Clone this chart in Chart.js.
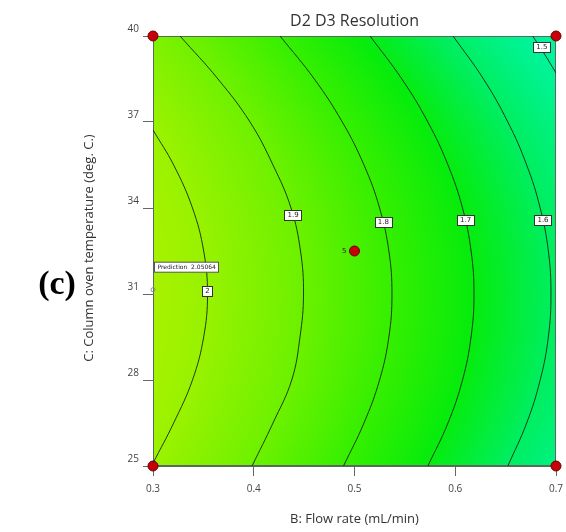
<!DOCTYPE html>
<html>
<head>
<meta charset="utf-8">
<script src="https://cdn.jsdelivr.net/npm/chart.js@4.4.1/dist/chart.umd.min.js"></script>
<style>
  html, body { margin: 0; padding: 0; background: #fff; }
  #wrap { width: 566px; height: 532px; }
</style>
</head>
<body>
<div id="wrap"><canvas id="myChart" width="566" height="532"></canvas></div>
<script>
// contour lines of the resolution, traced as [flow rate, temperature]
let levels = ['2', '1.9', '1.8', '1.7', '1.6', '1.5'];
let c20 = [[0.300, 36.72], [0.3205, 35.5], [0.3392, 34], [0.3503, 32.5], [0.3541, 31], [0.3503, 29.5], [0.3392, 28], [0.3205, 26.5], [0.300, 25.1]];
let c19 = [[0.3268, 40], [0.3645, 38.5], [0.3963, 37], [0.4191, 35.5], [0.4370, 34], [0.4464, 32.5], [0.4494, 31], [0.4459, 29.5], [0.4377, 28], [0.4191, 26.5], [0.3983, 25]];
let c18 = [[0.4261, 40], [0.4601, 38.5], [0.4879, 37], [0.5094, 35.5], [0.5249, 34], [0.5341, 32.5], [0.5372, 31], [0.5341, 29.5], [0.5249, 28], [0.5094, 26.5], [0.4891, 25]];
let c17 = [[0.5154, 40], [0.5470, 38.5], [0.5728, 37], [0.5928, 35.5], [0.6072, 34], [0.6157, 32.5], [0.6186, 31], [0.6157, 29.5], [0.6072, 28], [0.5928, 26.5], [0.5728, 25]];
let c16 = [[0.5978, 40], [0.6280, 38.5], [0.6522, 37], [0.6709, 35.5], [0.6843, 34], [0.6924, 32.5], [0.6950, 31], [0.6924, 29.5], [0.6843, 28], [0.6709, 26.5], [0.6522, 25]];
let c15 = [[0.6769, 40], [0.6891, 39.34], [0.700, 38.71]];
let contours = [c20, c19, c18, c17, c16, c15];

// where each level value is written on its line
let labelPos = [[0.354, 31.10], [0.439, 33.76], [0.5286, 33.51], [0.6102, 33.58], [0.6871, 33.58], [0.686, 39.62]];

// design points
let corners = [[0.3, 25], [0.3, 40], [0.7, 25], [0.7, 40]];
let centerPt = [0.5, 32.5];
let centerRuns = '5';
let predictPt = [0.3, 31.15];
let predictValue = '2.05064';

let xTicks = [0.3, 0.4, 0.5, 0.6, 0.7];
let xTickLabels = ['0.3', '0.4', '0.5', '0.6', '0.7'];
let yTicks = [25, 28, 31, 34, 37, 40];
let yTickLabels = ['25', '28', '31', '34', '37', '40'];

const uiFont = '"Open Sans", "Noto Sans", sans-serif';

function toXY(arr) {
  return arr.map(p => ({ x: p[0], y: p[1] }));
}

// colour along the middle row, by pixel; rows above/below are shifted with the 1.8 line
const shadeStops = [
  [153, '#a8f200'], [207, '#98f200'], [303, '#6cf100'], [392, '#36ef00'],
  [473, '#06ec0c'], [550, '#00ee5c'], [625, '#00f392'], [680, '#00f5aa']
];

const shading = {
  id: 'shading',
  beforeDatasetsDraw(chart) {
    const { ctx, chartArea: a, scales: { x, y } } = chart;
    const ref = c18.map(p => [x.getPixelForValue(p[0]), y.getPixelForValue(p[1])]);
    const vx = Math.max(...ref.map(p => p[0]));
    const xAt = py => {
      for (let i = 0; i < ref.length - 1; i++) {
        const [x0, y0] = ref[i], [x1, y1] = ref[i + 1];
        if (py >= y0 && py <= y1) return x0 + (x1 - x0) * (py - y0) / (y1 - y0 || 1);
      }
      return ref[ref.length - 1][0];
    };
    const s0 = shadeStops[0][0], s1 = shadeStops[shadeStops.length - 1][0];
    ctx.save();
    for (let py = a.top; py < a.bottom; py += 2) {
      const d = vx - xAt(py + 1);
      const g = ctx.createLinearGradient(s0 - d, 0, s1 - d, 0);
      shadeStops.forEach(s => g.addColorStop((s[0] - s0) / (s1 - s0), s[1]));
      ctx.fillStyle = g;
      ctx.fillRect(a.left, py, a.right - a.left, 2);
    }
    ctx.strokeStyle = '#5a6a5a';
    ctx.lineWidth = 1;
    ctx.strokeRect(a.left + 0.5, a.top + 0.5, a.right - a.left - 1, a.bottom - a.top - 1);
    ctx.restore();
  },
  afterDatasetsDraw(chart) {
    const { ctx, scales: { x, y } } = chart;
    ctx.save();
    // level labels
    ctx.font = '7px "DejaVu Sans", sans-serif';
    ctx.textAlign = 'center';
    ctx.textBaseline = 'middle';
    labelPos.forEach((p, i) => {
      const px = x.getPixelForValue(p[0]), py = y.getPixelForValue(p[1]);
      const w = ctx.measureText(levels[i]).width + 6;
      ctx.fillStyle = '#fff';
      ctx.fillRect(Math.round(px - w / 2) + 0.5, Math.round(py - 5) + 0.5, Math.round(w), 10);
      ctx.strokeStyle = '#333';
      ctx.strokeRect(Math.round(px - w / 2) + 0.5, Math.round(py - 5) + 0.5, Math.round(w), 10);
      ctx.fillStyle = '#222';
      ctx.fillText(levels[i], px, py + 0.5);
    });
    // run count next to the centre point
    const cx = x.getPixelForValue(centerPt[0]), cy = y.getPixelForValue(centerPt[1]);
    ctx.textAlign = 'right';
    ctx.fillText(centerRuns, cx - 8, cy);
    // prediction flag
    const fx = x.getPixelForValue(predictPt[0]), fy = y.getPixelForValue(predictPt[1]);
    ctx.strokeStyle = '#888';
    ctx.beginPath();
    ctx.arc(fx, fy, 2, 0, Math.PI * 2);
    ctx.stroke();
    ctx.font = '6px "DejaVu Sans", sans-serif';
    const txt = 'Prediction  ' + predictValue;
    const tw = Math.round(ctx.measureText(txt).width + 6);
    ctx.fillStyle = '#fff';
    ctx.fillRect(fx + 1.5, fy - 27.5, tw, 10);
    ctx.strokeStyle = '#555';
    ctx.strokeRect(fx + 1.5, fy - 27.5, tw, 10);
    ctx.fillStyle = '#222';
    ctx.textAlign = 'left';
    ctx.fillText(txt, fx + 4.5, fy - 22);
    ctx.restore();
  },
  afterDraw(chart) {
    const { ctx, chartArea: a } = chart;
    const mid = (a.left + a.right) / 2;
    ctx.save();
    ctx.fillStyle = '#333';
    ctx.textAlign = 'center';
    ctx.textBaseline = 'middle';
    ctx.font = '16px ' + uiFont;
    ctx.fillText('D2 D3 Resolution', mid, 21);
    ctx.font = '13px ' + uiFont;
    ctx.fillText('B: Flow rate (mL/min)', mid, 519);
    ctx.translate(89, 248);
    ctx.rotate(-Math.PI / 2);
    ctx.fillText('C: Column oven temperature (deg. C.)', 0, 0);
    ctx.restore();
    ctx.save();
    ctx.fillStyle = '#000';
    ctx.font = 'bold 34px "Liberation Serif", serif';
    ctx.textAlign = 'center';
    ctx.textBaseline = 'middle';
    ctx.fillText('(c)', 57, 285);
    ctx.restore();
  }
};

let datasets = contours.map((c, i) => ({
  label: levels[i],
  data: toXY(c),
  showLine: true,
  borderColor: 'rgba(20, 40, 20, 0.9)',
  borderWidth: 1,
  pointRadius: 0,
  tension: 0.4,
  clip: 0
}));

datasets.push({
  label: 'design points',
  data: toXY(corners.concat([centerPt])),
  showLine: false,
  pointRadius: 5,
  pointBackgroundColor: '#c8000a',
  pointBorderColor: '#6a0000',
  pointBorderWidth: 1,
  clip: false
});

const ctx = document.getElementById('myChart');

new Chart(ctx, {
  type: 'scatter',
  data: { datasets: datasets },
  options: {
    responsive: false,
    devicePixelRatio: 1,
    animation: false,
    layout: { padding: { top: 36, right: 10, left: 0, bottom: 0 } },
    plugins: {
      legend: { display: false },
      tooltip: { enabled: false },
      title: { display: false }
    },
    scales: {
      x: {
        type: 'linear',
        min: 0.3,
        max: 0.7,
        afterBuildTicks: s => { s.ticks = xTicks.map(v => ({ value: v })); },
        afterFit: s => { s.height = 66; s.paddingLeft = 0; s.paddingRight = 0; },
        grid: { drawOnChartArea: false, drawTicks: true, tickLength: 10, color: '#666' },
        border: { color: '#5a6a5a' },
        ticks: {
          padding: 7,
          color: '#444',
          font: { family: uiFont, size: 10 },
          callback: (v, i) => xTickLabels[i]
        }
      },
      y: {
        type: 'linear',
        min: 25,
        max: 40,
        afterBuildTicks: s => { s.ticks = yTicks.map(v => ({ value: v })); },
        afterFit: s => { s.width = 153; s.paddingTop = 0; s.paddingBottom = 0; },
        grid: { drawOnChartArea: false, drawTicks: true, tickLength: 10, color: '#666' },
        border: { color: '#5a6a5a' },
        ticks: {
          padding: 4,
          labelOffset: -7,
          color: '#444',
          font: { family: uiFont, size: 10 },
          callback: (v, i) => yTickLabels[i]
        }
      }
    }
  },
  plugins: [shading]
});
</script>
</body>
</html>
